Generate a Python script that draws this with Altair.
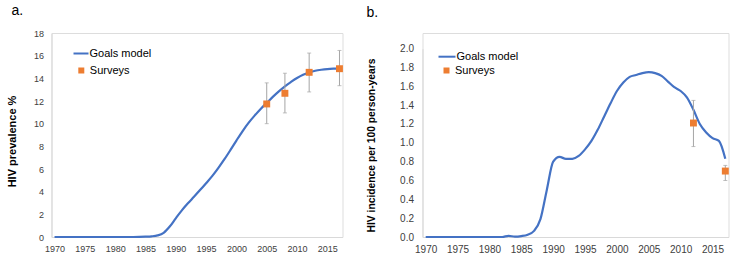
import altair as alt
import pandas as pd

# ---------------- data ----------------
years = list(range(1970, 2018))

prevalence = [
    0.0, 0.0, 0.0, 0.0, 0.0, 0.0, 0.0, 0.0, 0.0, 0.0,      # 1970-1979
    0.0, 0.0, 0.0, 0.0, 0.01, 0.03, 0.06, 0.14, 0.37, 0.92,  # 1980-1989
    1.65, 2.35, 2.97, 3.55, 4.14, 4.75, 5.37, 6.08, 6.84, 7.66,  # 1990-1999
    8.51, 9.33, 10.07, 10.71, 11.30, 11.83, 12.36, 12.85, 13.30, 13.68,  # 2000-2009
    14.03, 14.32, 14.52, 14.67, 14.76, 14.82, 14.85, 14.86,  # 2010-2017
]

incidence = [
    0.0, 0.0, 0.0, 0.0, 0.0, 0.0, 0.0, 0.0, 0.0, 0.0,        # 1970-1979
    0.0, 0.0, 0.0, 0.012, 0.004, 0.01, 0.025, 0.065, 0.19, 0.50,  # 1980-1989
    0.80, 0.85, 0.83, 0.83, 0.86, 0.93, 1.02, 1.14, 1.28, 1.42,  # 1990-1999
    1.55, 1.64, 1.70, 1.72, 1.74, 1.75, 1.74, 1.71, 1.65, 1.59,  # 2000-2009
    1.55, 1.48, 1.35, 1.20, 1.11, 1.05, 1.02, 0.83,          # 2010-2017
]

prev_survey_years = [2005, 2008, 2012, 2017]
prev_survey = [11.74, 12.68, 14.53, 14.85]
prev_low = [10.0, 10.95, 12.8, 13.35]
prev_high = [13.6, 14.45, 16.23, 16.46]

inc_survey_years = [2012, 2017]
inc_survey = [1.21, 0.70]
inc_low = [0.96, 0.60]
inc_high = [1.45, 0.76]

x_label_years = [1970, 1975, 1980, 1985, 1990, 1995, 2000, 2005, 2010, 2015]
prev_ticks = [0, 2, 4, 6, 8, 10, 12, 14, 16, 18]
inc_ticks = [0.0, 0.2, 0.4, 0.6, 0.8, 1.0, 1.2, 1.4, 1.6, 1.8, 2.0]

# ---------------- styling ----------------
BLUE = "#4472C4"
ORANGE = "#ED7D31"
GREY = "#A5A5A5"
AXIS = "#D9D9D9"
LABEL = "#404040"
FONT = "Liberation Sans"

PANEL_H = 204


def panel(model_vals, s_years, s_vals, s_low, s_high, ydomain, yticks, yfmt,
          ytitle, tag, width, top_gap, label_fs, title_fs, title_x, title_y,
          label_pad_y, leg_line, leg_sq, line_size, tag_dx, tag_offset):
    model_df = pd.DataFrame({"year": years, "value": model_vals,
                             "model": ["Goals model"] * len(years)})
    survey_df = pd.DataFrame({"year": s_years, "value": s_vals, "low": s_low,
                              "high": s_high, "survey": ["Surveys"] * len(s_years)})

    xaxis = alt.Axis(values=x_label_years, format="d", title=None,
                     ticks=False, grid=False, domainColor=AXIS,
                     labelFontSize=label_fs, labelColor=LABEL,
                     labelPadding=7, labelFont=FONT,
                     labelOverlap=False, labelFlush=False)
    xscale = alt.Scale(domain=[1969.5, 2017.5], nice=False, zero=False)
    yscale = alt.Scale(domain=ydomain, nice=False, zero=True,
                       range=[PANEL_H, top_gap])
    yaxis = alt.Axis(values=yticks, format=yfmt, title=ytitle, ticks=False,
                     grid=False, domainColor=AXIS, labelFontSize=label_fs,
                     labelColor=LABEL, labelPadding=label_pad_y, labelFont=FONT,
                     labelOverlap=False, labelFlush=False,
                     titleFont=FONT, titleFontSize=title_fs,
                     titleFontWeight="bold", titleColor="#000000",
                     titleX=title_x, titleY=title_y, titleBaseline="middle",
                     titleAlign="center")

    def X():
        return alt.X("year:Q", scale=xscale, axis=xaxis)

    def Y(field):
        return alt.Y(field, scale=yscale, axis=yaxis)

    line = alt.Chart(model_df).mark_line(interpolate="monotone", strokeWidth=2.2).encode(
        x=X(),
        y=Y("value:Q"),
        stroke=alt.Stroke("model:N",
                          scale=alt.Scale(domain=["Goals model"], range=[BLUE]),
                          legend=alt.Legend(orient="none", legendX=leg_line[0],
                                            legendY=leg_line[1], title=None,
                                            symbolType="stroke", symbolSize=line_size,
                                            symbolStrokeWidth=2, labelFontSize=11,
                                            labelFont=FONT, labelColor="#000000",
                                            labelOffset=leg_line[2], padding=0)),
    )
    bars = alt.Chart(survey_df).mark_rule(color=GREY, strokeWidth=1).encode(
        x=X(), y=Y("low:Q"), y2="high:Q")
    cap_lo = alt.Chart(survey_df).mark_tick(orient="horizontal", size=4,
                                            thickness=1, color=GREY).encode(
        x=X(), y=Y("low:Q"))
    cap_hi = alt.Chart(survey_df).mark_tick(orient="horizontal", size=4,
                                            thickness=1, color=GREY).encode(
        x=X(), y=Y("high:Q"))
    pts = alt.Chart(survey_df).mark_point(shape="square", filled=True, size=48,
                                          opacity=1).encode(
        x=X(), y=Y("value:Q"),
        fill=alt.Fill("survey:N",
                      scale=alt.Scale(domain=["Surveys"], range=[ORANGE]),
                      legend=alt.Legend(orient="none", legendX=leg_sq[0],
                                        legendY=leg_sq[1], title=None,
                                        symbolType="square", symbolSize=36,
                                        symbolStrokeWidth=0, labelFontSize=11,
                                        labelFont=FONT, labelColor="#000000",
                                        labelOffset=leg_sq[2], padding=0)),
    )
    return alt.layer(line, bars, cap_lo, cap_hi, pts).resolve_scale(
        stroke="independent", fill="independent").properties(
        width=width, height=PANEL_H,
        title=alt.TitleParams(tag, anchor="start", frame="group", fontSize=14,
                              fontWeight="normal", font=FONT, color="#000000",
                              baseline="alphabetic", dx=tag_dx, offset=tag_offset),
    )


left = panel(prevalence, prev_survey_years, prev_survey, prev_low, prev_high,
             [0, 18], prev_ticks, "d", "HIV prevalence %", "a.", 291, 0, 9, 11,
             -39, 108, 8, (21, 12, 0), (24.3, 32, 3), 225, -40, 0)

right = panel(incidence, inc_survey_years, inc_survey, inc_low, inc_high,
              [0, 2], inc_ticks, ".1f", "HIV incidence per 100 person-years", "b.",
              306, 15.6, 10, 10.3, -51.5, 112, 9, (15, 14.2, 0), (18.5, 32, 3),
              289, -56, 2)

chart = alt.hconcat(left, right, spacing=20).resolve_scale(
    x="independent", y="independent", stroke="independent", fill="independent"
).properties(
    padding={"left": 5.5, "top": 3, "right": 0, "bottom": 0}
).configure_view(stroke=None).configure(font=FONT).configure_axis(
    labelOverlap=False, labelFlush=False
)

chart.save("out.html", embed_options={"renderer": "svg", "actions": False})
